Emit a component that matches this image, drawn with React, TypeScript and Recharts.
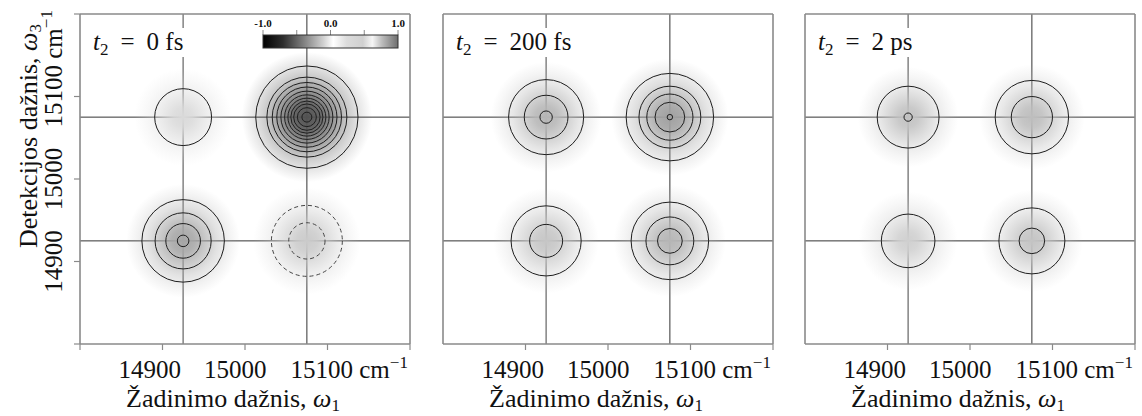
import { ScatterChart, Scatter, XAxis, YAxis, ReferenceLine } from 'recharts'

// frequency axes, cm^-1
const W_MIN = 14800
const W_MAX = 15200
const AXIS_TICKS = [14800, 14900, 15000, 15100, 15200]
const LABELED_TICKS = [14900, 15000, 15100]
const CROSS_LINES = [14925, 15075]

// peak positions (w1, w3)
const PEAK_W1 = [14925, 15075, 14925, 15075]
const PEAK_W3 = [15075, 15075, 14925, 14925]

const DELAYS = ['0', '200', '2']
const DELAY_UNITS = ['fs', 'fs', 'ps']

// centre shade of every peak, order: TL, TR, BL, BR
const SHADE_0FS = ['#dadada', '#525252', '#a6a6a6', '#cbcbcb']
const SHADE_200FS = ['#b6b6b6', '#a0a0a0', '#c6c6c6', '#b6b6b6']
const SHADE_2PS = ['#c2c2c2', '#bebebe', '#d0d0d0', '#c4c4c4']

// how far the shading reaches, cm^-1
const SPREAD_0FS = [59, 79, 69, 65]
const SPREAD_200FS = [67, 71, 64, 68]
const SPREAD_2PS = [61, 64, 60, 62]

// contour radii, cm^-1
const RINGS_0FS = [[34.5], [62, 48.5, 42, 36.5, 31.5, 27, 23, 19.5, 16, 11.5, 6], [50, 34, 21, 7], [43, 22]]
const RINGS_200FS = [[45.5, 26.5, 7.5], [53, 37.5, 28, 18, 3.3], [42.5, 20], [47, 29, 15]]
const RINGS_2PS = [[37.5, 5], [44.5, 25], [32.5], [40, 15.5]]

// negative peaks get dashed contours
const NEGATIVE_0FS = [false, false, false, true]
const NEGATIVE_200FS = [false, false, false, false]
const NEGATIVE_2PS = [false, false, false, false]

const COLORBAR_LABELS = ['-1.0', '0.0', '1.0']

const SERIF = { fontFamily: 'Liberation Serif' }
const PLOT = 330
const TOP = 14
const BOTTOM_H = 72
const PX_PER_CM = PLOT / (W_MAX - W_MIN)
const PANEL_LEFT = [80, 443, 805]
const LEFT_W = [80, 10, 10]
const RIGHT_W = 7
const FRAME = '#8a8a8a'

const panels = [
  { delay: DELAYS[0], unit: DELAY_UNITS[0], shade: SHADE_0FS, spread: SPREAD_0FS, rings: RINGS_0FS, neg: NEGATIVE_0FS },
  { delay: DELAYS[1], unit: DELAY_UNITS[1], shade: SHADE_200FS, spread: SPREAD_200FS, rings: RINGS_200FS, neg: NEGATIVE_200FS },
  { delay: DELAYS[2], unit: DELAY_UNITS[2], shade: SHADE_2PS, spread: SPREAD_2PS, rings: RINGS_2PS, neg: NEGATIVE_2PS },
]

const LABEL_W = [95, 121, 99]

function Blob(props: any) {
  const { cx, cy, payload } = props
  const r = payload.spread * PX_PER_CM
  return (
    <g>
      <defs>
        <radialGradient id={payload.id}>
          <stop offset="0%" stopColor={payload.shade} stopOpacity={1} />
          <stop offset="20%" stopColor={payload.shade} stopOpacity={0.88} />
          <stop offset="40%" stopColor={payload.shade} stopOpacity={0.6} />
          <stop offset="60%" stopColor={payload.shade} stopOpacity={0.33} />
          <stop offset="80%" stopColor={payload.shade} stopOpacity={0.15} />
          <stop offset="100%" stopColor={payload.shade} stopOpacity={0} />
        </radialGradient>
      </defs>
      <circle cx={cx} cy={cy} r={r} fill={`url(#${payload.id})`} />
    </g>
  )
}

function Ring(props: any) {
  const { cx, cy, payload } = props
  return (
    <circle
      cx={cx}
      cy={cy}
      r={payload.r * PX_PER_CM}
      fill="none"
      stroke={payload.neg ? '#444' : '#1e1e1e'}
      strokeWidth={1}
      strokeDasharray={payload.neg ? '4 3' : undefined}
    />
  )
}

const X_SHIFT: Record<number, number> = { 14900: -44, 15000: -41, 15100: -37 }

function XTick(props: any) {
  const { x, payload } = props
  const v = payload.value
  if (!LABELED_TICKS.includes(v)) return <g />
  return (
    <text x={x + X_SHIFT[v]} y={378} style={SERIF} fontSize={25} fill="#111" textAnchor="start">
      {v}
      {v === 15100 && (
        <>
          <tspan> cm</tspan>
          <tspan dy={-10} fontSize={17}>−1</tspan>
        </>
      )}
    </text>
  )
}

function YTick(props: any) {
  const { y, payload } = props
  const v = payload.value
  if (!LABELED_TICKS.includes(v)) return <g />
  const bx = 62
  const by = y + (v === 15100 ? 31 : 0)
  return (
    <text
      x={bx}
      y={by}
      transform={`rotate(-90 ${bx} ${by})`}
      style={SERIF}
      fontSize={25}
      fill="#111"
      textAnchor={v === 15100 ? 'start' : 'middle'}
    >
      {v}
      {v === 15100 && (
        <>
          <tspan> cm</tspan>
          <tspan dy={-10} fontSize={17}>−1</tspan>
        </>
      )}
    </text>
  )
}

function Colorbar() {
  const x0 = 263
  const w = 135
  return (
    <g>
      <defs>
        <linearGradient id="cbar" x1="0" x2="1" y1="0" y2="0">
          <stop offset="0%" stopColor="#000" />
          <stop offset="15%" stopColor="#2e2e2e" />
          <stop offset="32%" stopColor="#8a8a8a" />
          <stop offset="45%" stopColor="#d2d2d2" />
          <stop offset="52%" stopColor="#ffffff" />
          <stop offset="62%" stopColor="#dcdcdc" />
          <stop offset="74%" stopColor="#d0d0d0" />
          <stop offset="81%" stopColor="#f6f6f6" />
          <stop offset="88%" stopColor="#bdbdbd" />
          <stop offset="100%" stopColor="#6e6e6e" />
        </linearGradient>
      </defs>
      {[0, 0.25, 0.5, 0.75, 1].map((f) => (
        <line key={f} x1={x0 + f * w} x2={x0 + f * w} y1={30} y2={35} stroke={FRAME} strokeWidth={1} />
      ))}
      <rect x={x0} y={35} width={w} height={13} fill="url(#cbar)" stroke="#333" strokeWidth={1} />
      {COLORBAR_LABELS.map((t, i) => (
        <text key={t} x={x0 + (i * w) / 2} y={27} style={SERIF} fontSize={11} fontWeight="bold" textAnchor="middle" fill="#111">
          {t}
        </text>
      ))}
    </g>
  )
}

function Panel({ idx }: { idx: number }) {
  const p = panels[idx]
  const left = PANEL_LEFT[idx] - LEFT_W[idx]
  const width = LEFT_W[idx] + PLOT + RIGHT_W
  const blobs = PEAK_W1.map((w1, i) => ({
    w1,
    w3: PEAK_W3[i],
    shade: p.shade[i],
    spread: p.spread[i],
    id: `blob-${idx}-${i}`,
  }))
  const rings = PEAK_W1.flatMap((w1, i) => p.rings[i].map((r) => ({ w1, w3: PEAK_W3[i], r, neg: p.neg[i] })))
  const lx = PANEL_LEFT[idx] + 13
  return (
    <div style={{ position: 'absolute', left, top: 0, width, height: 416 }}>
      <ScatterChart width={width} height={416} margin={{ top: 0, right: 0, bottom: 0, left: 0 }}>
        <XAxis
          xAxisId={0}
          type="number"
          dataKey="w1"
          domain={[W_MIN, W_MAX]}
          ticks={AXIS_TICKS}
          allowDataOverflow
          height={BOTTOM_H}
          tickSize={6}
          stroke={FRAME}
          axisLine={{ stroke: FRAME, strokeWidth: 1.6 }}
          tickLine={{ stroke: FRAME, strokeWidth: 1.2 }}
          tick={<XTick />}
        />
        <XAxis
          xAxisId="top"
          orientation="top"
          type="number"
          domain={[W_MIN, W_MAX]}
          ticks={AXIS_TICKS}
          allowDataOverflow
          height={TOP}
          tickSize={6}
          axisLine={{ stroke: FRAME, strokeWidth: 1.6 }}
          tickLine={{ stroke: FRAME, strokeWidth: 1.2 }}
          tick={false}
        />
        <YAxis
          yAxisId={0}
          type="number"
          dataKey="w3"
          domain={[W_MIN, W_MAX]}
          ticks={AXIS_TICKS}
          allowDataOverflow
          width={LEFT_W[idx]}
          tickSize={6}
          axisLine={{ stroke: FRAME, strokeWidth: 1.6 }}
          tickLine={{ stroke: FRAME, strokeWidth: 1.2 }}
          tick={idx === 0 ? <YTick /> : false}
        />
        <YAxis
          yAxisId="right"
          orientation="right"
          type="number"
          domain={[W_MIN, W_MAX]}
          ticks={AXIS_TICKS}
          allowDataOverflow
          width={RIGHT_W}
          tickSize={6}
          axisLine={{ stroke: FRAME, strokeWidth: 1.6 }}
          tickLine={{ stroke: FRAME, strokeWidth: 1.2 }}
          tick={false}
        />
        <Scatter data={blobs} shape={Blob} isAnimationActive={false} />
        <Scatter data={rings} shape={Ring} isAnimationActive={false} />
        {CROSS_LINES.map((v, i) => (
          <ReferenceLine key={`x${v}`} x={v} stroke={i === 0 ? '#7a7a7a' : '#333'} strokeWidth={i === 0 ? 1.4 : 1} />
        ))}
        {CROSS_LINES.map((v) => (
          <ReferenceLine key={`y${v}`} y={v} stroke="#333" strokeWidth={1} />
        ))}
      </ScatterChart>
      <svg
        width={width}
        height={416}
        style={{ position: 'absolute', left: 0, top: 0, pointerEvents: 'none' }}
        viewBox={`${left} 0 ${width} 416`}
      >
        <rect x={lx - 2} y={28} width={LABEL_W[idx]} height={29} fill="#fff" />
        <text x={lx} y={50} style={SERIF} fontSize={25} fill="#111">
          <tspan fontStyle="italic">t</tspan>
          <tspan dy={5} fontSize={17}>2</tspan>
          <tspan dy={-5} dx={12}>=</tspan>
          <tspan dx={12}>{p.delay}</tspan>
          <tspan> {p.unit}</tspan>
        </text>
        <text x={PANEL_LEFT[idx] + PLOT / 2 - 12} y={407} style={SERIF} fontSize={26} fill="#111" textAnchor="middle">
          Žadinimo dažnis, <tspan fontStyle="italic">ω</tspan>
          <tspan dy={4} fontSize={17}>1</tspan>
        </text>
        {idx === 0 && (
          <>
            <text
              x={37}
              y={136}
              transform="rotate(-90 37 136)"
              style={SERIF}
              fontSize={26}
              fill="#111"
              textAnchor="middle"
            >
              Detekcijos dažnis, <tspan fontStyle="italic">ω</tspan>
              <tspan dy={4} fontSize={17}>3</tspan>
            </text>
            <Colorbar />
          </>
        )}
      </svg>
    </div>
  )
}

export default function App() {
  return (
    <div style={{ position: 'absolute', left: 0, top: 0, width: 1142, height: 416, overflow: 'hidden', background: '#fff' }}>
      {panels.map((_, i) => (
        <Panel key={i} idx={i} />
      ))}
    </div>
  )
}
